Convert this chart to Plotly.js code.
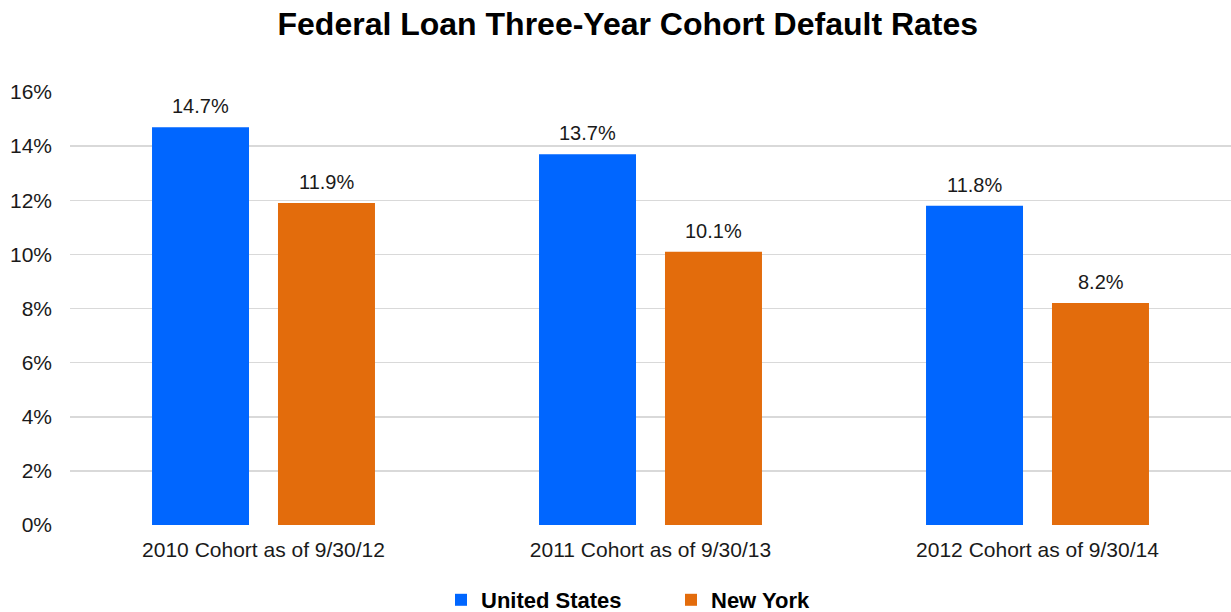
<!DOCTYPE html>
<html><head><meta charset="utf-8">
<script src="https://cdn.plot.ly/plotly-3.0.1.min.js"></script>
<style>html,body{margin:0;padding:0;background:#fff;}</style>
</head><body>
<div id="chart" style="width:1231px;height:612px;"></div>
<script>
const categories = ["2010 Cohort as of 9/30/12", "2011 Cohort as of 9/30/13", "2012 Cohort as of 9/30/14"];
const unitedStates = [14.7, 13.7, 11.8];
const newYork = [11.9, 10.1, 8.2];
const yTickVals = [0, 2, 4, 6, 8, 10, 12, 14, 16];
const yTickText = ["0%", "2%", "4%", "6%", "8%", "10%", "12%", "14%", "16%"];

const font = "Arial, 'Liberation Sans', sans-serif";
const traces = [
  {type: "bar", name: "United States", x: categories, y: unitedStates,
   marker: {color: "#0066FF"}, hoverinfo: "none"},
  {type: "bar", name: "New York", x: categories, y: newYork,
   marker: {color: "#E36C0C"}, hoverinfo: "none"}
];
const annotations = [];
categories.forEach((c, i) => {
  [[unitedStates, -0.5], [newYork, 0.5]].forEach(([arr, off]) => {
    annotations.push({x: i + off * 0.326, xref: "x", y: arr[i], yref: "y",
      text: arr[i].toFixed(1) + "%", showarrow: false, yanchor: "bottom", yshift: 8,
      font: {family: font, size: 20, color: "#1a1a1a"}});
  });
});
const layout = {
  width: 1231, height: 612,
  margin: {l: 70, r: 0, t: 92, b: 87},
  paper_bgcolor: "#fff", plot_bgcolor: "#fff",
  title: {text: "<b>Federal Loan Three-Year Cohort Default Rates</b>", x: 0.51, xanchor: "center", y: 0.961, yanchor: "middle",
    font: {family: font, size: 32, color: "#000"}},
  barmode: "group", bargap: 0.349, bargroupgap: 0.23,
  xaxis: {type: "category", tickfont: {family: font, size: 21, color: "#1a1a1a"}, showline: false, ticks: "", showgrid: false, zeroline: false, ticklabelstandoff: 10},
  yaxis: {range: [0, 16], tickvals: yTickVals, ticktext: yTickText, showgrid: true, gridcolor: "#d9d9d9", gridwidth: 1.5,
    zeroline: false, showline: false, ticks: "", ticklabelstandoff: 17,
    tickfont: {family: font, size: 21, color: "#1a1a1a"}},
  showlegend: true,
  legend: {orientation: "h", xref: "container", yref: "container", x: 441 / 1231, xanchor: "left", y: 12 / 612, yanchor: "middle",
    font: {family: font, size: 22, color: "#000", weight: "bold"}, itemwidth: 30, traceorder: "normal",
    entrywidth: 185, entrywidthmode: "pixels"},
  annotations: annotations
};
Plotly.newPlot("chart", traces, layout, {staticPlot: true});
</script>
</body></html>
